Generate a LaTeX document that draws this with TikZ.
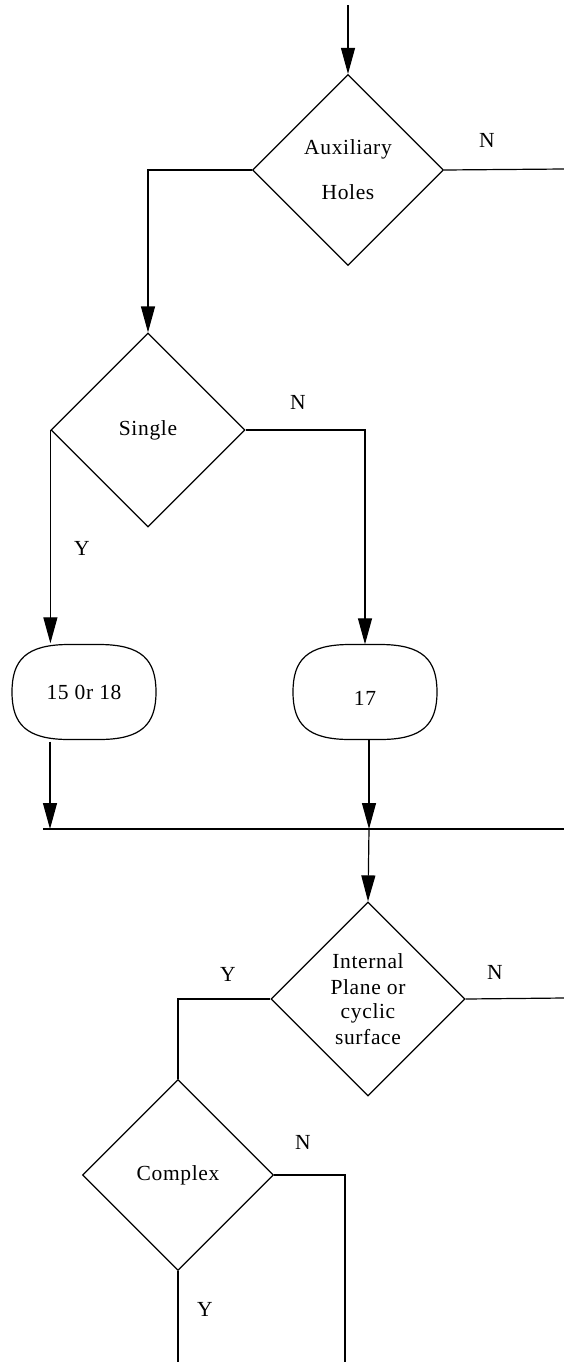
\documentclass[tikz,border=0pt]{standalone}
\usepackage{fontspec}
\setmainfont[LetterSpace=3]{Liberation Serif}
\usetikzlibrary{shapes.geometric,arrows.meta}
\tikzset{
  dec/.style={draw, diamond, aspect=1, inner sep=0pt, minimum width=#1, minimum height=#1, line width=1.2pt, align=center},
  pill/.style={minimum width=144pt, minimum height=95pt, inner sep=0pt},
  conn/.style={line width=1.2pt},
  arr/.style={line width=1.2pt, -{Triangle[length=26pt,width=14pt]}},
  lbl/.style={inner sep=0pt},
  pillline/.style={line width=1.2pt},
}
\newcommand{\pilloutline}[1]{%
  \draw[pillline, shift={(#1.center)}]
    (-15,-47.5) -- (15,-47.5) .. controls (58,-47.5) and (72,-32) .. (72,0)
    .. controls (72,32) and (58,47.5) .. (15,47.5) -- (-15,47.5)
    .. controls (-58,47.5) and (-72,32) .. (-72,0)
    .. controls (-72,-32) and (-58,-47.5) .. cycle;}
\begin{document}
\begin{tikzpicture}[x=1pt,y=-1pt, font=\fontsize{21.5}{27}\selectfont]
\useasboundingbox (0,0) rectangle (564,1366);
% nodes
\node[dec=191pt] (d1) at (348,170) {Auxiliary\\[18pt]Holes};
\node[dec=194pt] (d2) at (148,430) {Single};
\node[pill] (b1) at (84,692) {15 0r 18};
\node[pill] (b2) at (365,692) {\smash{\raisebox{-13.5pt}{17}}};
\node[dec=194pt] (d3) at (368,999) {Internal\\[-1pt]Plane or\\[-3pt]cyclic\\[-1pt]surface};
\node[dec=191pt] (d4) at (178,1175) {Complex};
\pilloutline{b1}
\pilloutline{b2}
% labels
\node[lbl] (n1) at (487,140) {N};
\node[lbl] (n2) at (298,402) {N};
\node[lbl] (y2) at (82,548) {Y};
\node[lbl] (y3) at (228,974) {Y};
\node[lbl] (n3) at (495,972) {N};
\node[lbl] (n4) at (303,1142) {N};
\node[lbl] (y4) at (205,1309) {Y};
% coordinates
\coordinate (start) at (348,5);
\coordinate (e1) at (564,169);
\coordinate (j1) at (50,829);
\coordinate (j2) at (369,829);
\coordinate (jl) at (43,829);
\coordinate (jr) at (564,829);
\coordinate (e3) at (564,998);
\coordinate (e4) at (345,1362);
\coordinate (e5) at (178,1362);
% connectors
\draw[arr] (start) -- (d1.north);
\draw[arr] (d1.west) -| (d2.north);
\draw[conn] (d1.east) -- (e1);
\draw[arr] (d2.west) -- ([yshift=1pt]d2.west |- b1.north);
\draw[arr] (d2.east) -| (b2.north);
\draw[arr] ([yshift=-2pt]j1 |- b1.south) -- (j1);
\draw[arr] (j2 |- b2.south) -- (j2);
\draw[conn] (jl) -- (jr);
\draw[arr] (j2) -- (d3.north);
\draw[conn] (d3.west) -| (d4.north);
\draw[conn] (d3.east) -- (e3);
\draw[conn] (d4.east) -| (e4);
\draw[conn] (d4.south) -- (e5);
\end{tikzpicture}
\end{document}
